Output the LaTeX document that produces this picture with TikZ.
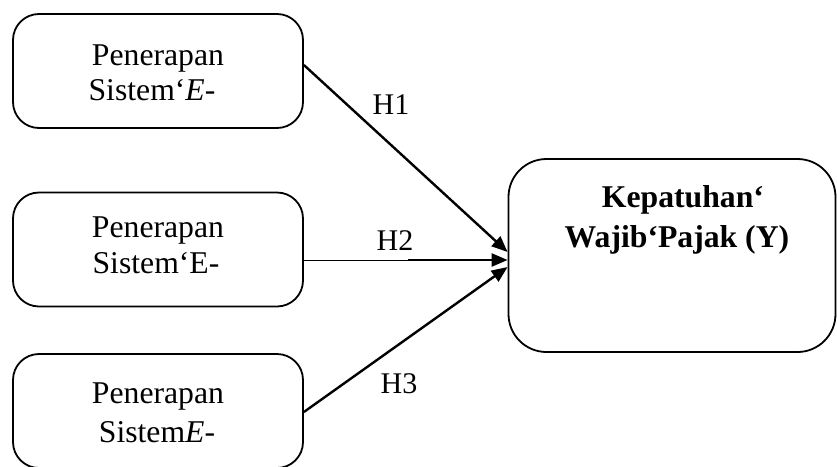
\documentclass[tikz,border=0pt]{standalone}
\usepackage{fontspec}
\setmainfont{Liberation Serif}
\usetikzlibrary{arrows.meta,calc}
\begin{document}
\begin{tikzpicture}[x=1pt,y=-1pt,
  srcbox/.style={draw,line width=1.8pt,rounded corners=26pt,minimum width=290pt,minimum height=114pt,inner sep=0pt},
  tgtbox/.style={draw,line width=1.8pt,rounded corners=38pt,minimum width=327pt,minimum height=193pt,inner sep=0pt},
  txt/.style={anchor=base,inner sep=0pt,font=\fontsize{31.7}{35}\selectfont},
  btxt/.style={anchor=base,inner sep=0pt,font=\fontsize{31.7}{35}\selectfont\bfseries},
  hlab/.style={anchor=base,inner sep=0pt,font=\fontsize{30}{34}\selectfont},
  conn/.style={line width=2.4pt,-{Triangle[length=16pt,width=13pt]}},
  thin/.style={line width=1pt}]
\useasboundingbox (0,0) rectangle (837,466);
\node[srcbox] (b1) at (158,71) {};
\node[srcbox] (b2) at (158,249.5) {};
\node[srcbox] (b3) at (158,411) {};
\node[tgtbox] (y) at (672,255.5) {};
\node[txt] (t1a) at (158,65) {Penerapan};
\node[txt] (t1b) at (152,100) {Sistem‘\textit{E}-};
\node[txt] (t2a) at (158,237) {Penerapan};
\node[txt] (t2b) at (156,273) {Sistem‘E-};
\node[txt] (t3a) at (158,403) {Penerapan};
\node[txt] (t3b) at (157,442) {Sistem\textit{E}-};
\node[btxt] (ya) at (683,207) {Kepatuhan‘};
\node[btxt] (yb) at (677,247) {Wajib‘Pajak (Y)};
\coordinate (s1) at ($(b1.east)+(0,-6)$);
\coordinate (e1) at ($(y.west)+(0,-3.5)$);
\coordinate (s2) at ($(b2.east)+(0,10.5)$);
\coordinate (e2) at ($(y.west)+(0,4.5)$);
\coordinate (m2) at (408,260);
\coordinate (s3) at ($(b3.east)+(0,1)$);
\coordinate (e3) at ($(y.west)+(0,11.5)$);
\draw[conn] (s1) -- (e1);
\draw[thin] (s2) -- (m2);
\draw[conn] (m2) -- (e2);
\draw[conn] (s3) -- (e3);
\node[hlab] (h1) at (391,114) {H1};
\node[hlab] (h2) at (395,250) {H2};
\node[hlab] (h3) at (399,393) {H3};
\end{tikzpicture}
\end{document}
